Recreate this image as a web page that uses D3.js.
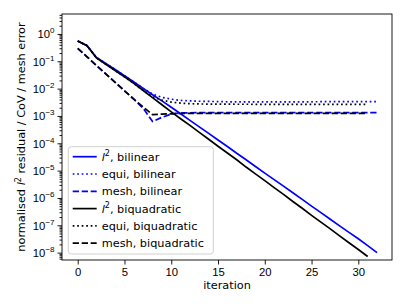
<!DOCTYPE html>
<html>
<head>
<meta charset="UTF-8">
<title>convergence</title>
<style>
    body {
        margin: 0;
        background: #ffffff;
    }

    svg {
        display: block;
        font-family: "DejaVu Sans", sans-serif;
        font-size: 11.3px;
    }

    .axis line {
        stroke: #000000;
        stroke-width: 0.9;
    }

    .axis path.domain {
        display: none;
    }

    .axis text {
        fill: #000000;
        font-size: 11.3px;
    }

    path.series {
        fill: none;
        stroke-width: 1.7;
    }
</style>
</head>
<body>
<script src="https://cdn.jsdelivr.net/npm/d3@7"></script>
<script>

    // iterations
    var iterBilinear = [0, 1, 2, 3, 4, 5, 6, 7, 8, 9, 10, 11, 12, 13, 14, 15, 16, 17, 18, 19, 20,
                        21, 22, 23, 24, 25, 26, 27, 28, 29, 30, 31, 32];
    var iterBiquad = [0, 1, 2, 3, 4, 5, 6, 7, 8, 9, 10, 11, 12, 13, 14, 15, 16, 17, 18, 19, 20,
                      21, 22, 23, 24, 25, 26, 27, 28, 29, 30, 31];

    // bilinear
    var l2Bilinear = [0.55, 0.37, 0.138, 0.083, 0.050, 0.0295, 0.0174, 0.0102, 0.0060, 0.00355, 0.00209,
                      1.20e-3, 6.9e-4, 4.0e-4, 2.3e-4, 1.32e-4, 7.6e-5, 4.3e-5, 2.5e-5, 1.41e-5, 8.1e-6,
                      4.7e-6, 2.7e-6, 1.55e-6, 8.9e-7, 5.0e-7, 2.9e-7, 1.66e-7, 9.5e-8, 5.5e-8, 3.2e-8,
                      1.8e-8, 1.0e-8];
    var equiBilinear = [0.55, 0.37, 0.138, 0.083, 0.050, 0.0295, 0.0174, 0.0102, 6.3e-3, 4.8e-3, 4.1e-3,
                        3.7e-3, 3.55e-3, 3.45e-3, 3.4e-3, 3.35e-3, 3.3e-3, 3.3e-3, 3.3e-3, 3.3e-3, 3.3e-3,
                        3.3e-3, 3.3e-3, 3.3e-3, 3.3e-3, 3.3e-3, 3.32e-3, 3.32e-3, 3.33e-3, 3.33e-3, 3.35e-3,
                        3.35e-3, 3.37e-3];
    var meshBilinear = [0.295, 0.145, 0.0708, 0.0347, 0.0170, 8.3e-3, 4.1e-3, 1.9e-3, 6.3e-4, 8.9e-4, 1.17e-3,
                        1.29e-3, 1.31e-3, 1.32e-3, 1.32e-3, 1.32e-3, 1.32e-3, 1.32e-3, 1.32e-3, 1.32e-3, 1.32e-3,
                        1.32e-3, 1.32e-3, 1.32e-3, 1.32e-3, 1.32e-3, 1.32e-3, 1.32e-3, 1.32e-3, 1.32e-3, 1.32e-3,
                        1.32e-3, 1.32e-3];

    // biquadratic
    var l2Biquad = [0.55, 0.37, 0.132, 0.0776, 0.0457, 0.0269, 0.0155, 8.51e-3, 4.68e-3, 2.57e-3, 1.41e-3,
                    7.9e-4, 4.5e-4, 2.5e-4, 1.4e-4, 7.8e-5, 4.4e-5, 2.5e-5, 1.35e-5, 7.6e-6, 4.3e-6,
                    2.4e-6, 1.35e-6, 7.4e-7, 4.2e-7, 2.3e-7, 1.3e-7, 7.4e-8, 4.1e-8, 2.3e-8, 1.3e-8, 7.2e-9];
    var equiBiquad = [0.55, 0.37, 0.132, 0.0776, 0.0457, 0.0269, 0.0155, 8.51e-3, 5.0e-3, 3.8e-3, 3.2e-3,
                      2.95e-3, 2.82e-3, 2.75e-3, 2.72e-3, 2.7e-3, 2.7e-3, 2.68e-3, 2.68e-3, 2.67e-3, 2.67e-3,
                      2.66e-3, 2.66e-3, 2.66e-3, 2.65e-3, 2.65e-3, 2.65e-3, 2.65e-3, 2.65e-3, 2.65e-3, 2.65e-3,
                      2.65e-3];
    var meshBiquad = [0.295, 0.145, 0.0708, 0.0347, 0.0170, 8.3e-3, 4.1e-3, 2.14e-3, 1.12e-3, 1.17e-3, 1.2e-3,
                      1.23e-3, 1.24e-3, 1.25e-3, 1.25e-3, 1.25e-3, 1.25e-3, 1.25e-3, 1.25e-3, 1.25e-3, 1.25e-3,
                      1.25e-3, 1.25e-3, 1.25e-3, 1.25e-3, 1.25e-3, 1.25e-3, 1.25e-3, 1.25e-3, 1.25e-3, 1.25e-3,
                      1.25e-3];

    // tick labels
    var xTicks = [0, 5, 10, 15, 20, 25, 30];
    var yExponents = [0, -1, -2, -3, -4, -5, -6, -7, -8];

    var series = [
        {iter: iterBilinear, values: l2Bilinear, color: "#0000ff", dash: null, label: ["l2", ", bilinear"]},
        {iter: iterBilinear, values: equiBilinear, color: "#0000ff", dash: "1.7,2.8", label: ["equi, bilinear"]},
        {iter: iterBilinear, values: meshBilinear, color: "#0000ff", dash: "6.3,2.7", label: ["mesh, bilinear"]},
        {iter: iterBiquad, values: l2Biquad, color: "#000000", dash: null, label: ["l2", ", biquadratic"]},
        {iter: iterBiquad, values: equiBiquad, color: "#000000", dash: "1.7,2.8", label: ["equi, biquadratic"]},
        {iter: iterBiquad, values: meshBiquad, color: "#000000", dash: "6.3,2.7", label: ["mesh, biquadratic"]}
    ];

    var fullWidth = 407, fullHeight = 305;
    var plot = {left: 62, right: 392, top: 14, bottom: 260};

    var x = d3.scaleLinear()
            .domain([-1.68, 33.6])
            .range([plot.left, plot.right]);

    var y = d3.scaleLog()
            .domain([Math.pow(10, -8.27), Math.pow(10, 0.73)])
            .range([plot.bottom, plot.top]);

    var svg = d3.select("body").append("svg")
            .attr("width", fullWidth)
            .attr("height", fullHeight);

    svg.append("clipPath")
            .attr("id", "clip")
            .append("rect")
            .attr("x", plot.left)
            .attr("y", plot.top)
            .attr("width", plot.right - plot.left)
            .attr("height", plot.bottom - plot.top);

    // minor log ticks
    var minorTicks = [];
    for (var e = -9; e <= 0; e++) {
        for (var m = 2; m <= 9; m++) {
            var v = m * Math.pow(10, e);
            if (v >= y.domain()[0] && v <= y.domain()[1]) minorTicks.push(v);
        }
    }

    svg.append("g")
            .attr("class", "y axis minor")
            .attr("transform", "translate(" + plot.left + ",0)")
            .call(d3.axisLeft(y).tickValues(minorTicks).tickSize(2.5).tickFormat(""));

    var yAxis = svg.append("g")
            .attr("class", "y axis")
            .attr("transform", "translate(" + plot.left + ",0)")
            .call(d3.axisLeft(y)
                .tickValues(yExponents.map(function (p) { return Math.pow(10, p); }))
                .tickSize(4.5)
                .tickFormat(""));

    // 10^n labels with superscript
    yAxis.selectAll("g.tick").each(function (d, i) {
        var p = yExponents[i];
        var t = d3.select(this).append("text")
                .attr("x", -7.5)
                .attr("y", 4)
                .attr("text-anchor", "end");
        t.append("tspan").text("10");
        t.append("tspan")
                .attr("dy", -5)
                .style("font-size", "8px")
                .text(p < 0 ? "\u2212" + (-p) : String(p));
    });

    svg.append("g")
            .attr("class", "x axis")
            .attr("transform", "translate(0," + plot.bottom + ")")
            .call(d3.axisBottom(x).tickValues(xTicks).tickSize(4.5).tickPadding(3.5));

    svg.selectAll(".x.axis text").attr("dy", "0.71em");

    var line = d3.line()
            .x(function (d) { return x(d[0]); })
            .y(function (d) { return y(d[1]); });

    svg.append("g")
            .attr("clip-path", "url(#clip)")
            .selectAll("path.series")
            .data(series)
            .enter().append("path")
            .attr("class", "series")
            .attr("stroke", function (s) { return s.color; })
            .attr("stroke-dasharray", function (s) { return s.dash; })
            .attr("d", function (s) { return line(d3.zip(s.iter, s.values)); });

    // frame
    svg.append("rect")
            .attr("x", plot.left)
            .attr("y", plot.top)
            .attr("width", plot.right - plot.left)
            .attr("height", plot.bottom - plot.top)
            .attr("fill", "none")
            .attr("stroke", "#000")
            .attr("stroke-width", 0.9);

    // axis labels
    svg.append("text")
            .attr("x", (plot.left + plot.right) / 2)
            .attr("y", 289)
            .attr("text-anchor", "middle")
            .text("iteration");

    var ylab = svg.append("text")
            .attr("transform", "translate(25," + (plot.top + plot.bottom) / 2 + ") rotate(-90)")
            .attr("text-anchor", "middle");
    ylab.append("tspan").text("normalised ");
    ylab.append("tspan").style("font-style", "italic").text("l");
    ylab.append("tspan").attr("dy", -4.5).style("font-size", "8px").text("2");
    ylab.append("tspan").attr("dy", 4.5).text(" residual / CoV / mesh error");

    // legend
    var legend = svg.append("g").attr("class", "legend");

    legend.append("rect")
            .attr("x", 68.3)
            .attr("y", 146.7)
            .attr("width", 145)
            .attr("height", 107.3)
            .attr("rx", 3)
            .attr("fill", "#ffffff")
            .attr("fill-opacity", 0.8)
            .attr("stroke", "#cccccc")
            .attr("stroke-width", 0.9);

    var rows = legend.selectAll("g.row")
            .data(series)
            .enter().append("g")
            .attr("class", "row")
            .attr("transform", function (s, i) { return "translate(0," + (156.7 + i * 17.3) + ")"; });

    rows.append("line")
            .attr("x1", 72.7)
            .attr("x2", 96.7)
            .attr("stroke", function (s) { return s.color; })
            .attr("stroke-width", 1.7)
            .attr("stroke-dasharray", function (s) { return s.dash; });

    rows.append("text")
            .attr("x", 101.7)
            .attr("y", 4)
            .each(function (s) {
                var t = d3.select(this);
                if (s.label[0] === "l2") {
                    t.append("tspan").style("font-style", "italic").text("l");
                    t.append("tspan").attr("dy", -4.5).style("font-size", "8px").text("2");
                    t.append("tspan").attr("dy", 4.5).text(s.label[1]);
                } else {
                    t.text(s.label[0]);
                }
            });

</script>
</body>
</html>
